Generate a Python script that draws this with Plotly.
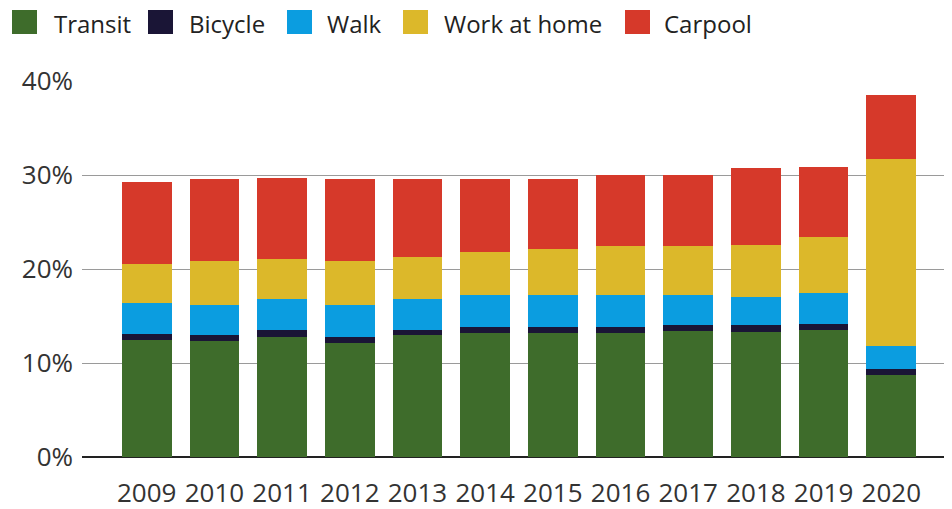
import plotly.graph_objects as go

years = ["2009", "2010", "2011", "2012", "2013", "2014", "2015", "2016", "2017", "2018", "2019", "2020"]

transit = [12.4, 12.3, 12.8, 12.1, 12.95, 13.2, 13.2, 13.2, 13.4, 13.3, 13.55, 8.7]
bicycle = [0.65, 0.65, 0.7, 0.7, 0.6, 0.65, 0.65, 0.65, 0.65, 0.7, 0.65, 0.65]
walk = [3.35, 3.25, 3.3, 3.4, 3.25, 3.35, 3.35, 3.35, 3.15, 3.0, 3.2, 2.45]
work_at_home = [4.1, 4.7, 4.3, 4.6, 4.5, 4.6, 4.9, 5.2, 5.2, 5.55, 6.0, 19.9]
carpool = [8.8, 8.7, 8.6, 8.75, 8.25, 7.8, 7.5, 7.6, 7.6, 8.15, 7.4, 6.8]

series = [
    ("Transit", transit, "#3e6c2b"),
    ("Bicycle", bicycle, "#1a1536"),
    ("Walk", walk, "#0b9de0"),
    ("Work at home", work_at_home, "#dcb82a"),
    ("Carpool", carpool, "#d6392a"),
]

FONT = "Open Sans"
# page body has an 8px margin, so the figure is a bit smaller than the window
W, H = 944, 501
L, R, T, B = 74, 0, 73, 52

def px(x):
    return (x - L) / (W - L - R)

def py(y):
    return (H - B - y) / (H - T - B)

fig = go.Figure()
for name, vals, col in series:
    fig.add_trace(go.Bar(x=years, y=vals, name=name, marker_color=col,
                         marker_line_width=0, showlegend=False))

# legend drawn by hand so the swatches can be large
legend_pos = [(4, 47), (140, 182), (279, 320), (395, 437), (617, 657)]
shapes = []
annotations = []
for (name, _, col), (sx, tx) in zip(series, legend_pos):
    shapes.append(dict(type="rect", xref="paper", yref="paper",
                       x0=px(sx), x1=px(sx + 25), y0=py(26), y1=py(2),
                       fillcolor=col, line_width=0))
    annotations.append(dict(text=name, xref="paper", yref="paper",
                            x=px(tx - 2), y=py(15.5), xanchor="left", yanchor="middle",
                            showarrow=False, borderpad=0,
                            font=dict(family=FONT, size=24, color="#222")))

fig.update_layout(
    width=W, height=H,
    margin=dict(l=L, r=R, t=T, b=B),
    barmode="stack", bargap=0.265,
    plot_bgcolor="white", paper_bgcolor="white",
    font=dict(family=FONT, size=24, color="#333"),
    shapes=shapes, annotations=annotations,
    xaxis=dict(range=[-0.956, 11.897], showgrid=False, showline=False,
               ticks="outside", ticklen=13, tickcolor="rgba(0,0,0,0)",
               tickfont=dict(family=FONT, size=26, color="#333")),
    yaxis=dict(range=[0, 40], tickvals=[0, 10, 20, 30, 40],
               ticktext=["0%", "10%", "20%", "30%", "40%"],
               showgrid=True, gridcolor="#9a9a9a", gridwidth=1,
               zeroline=True, zerolinecolor="#222", zerolinewidth=2,
               showline=False, ticklabelstandoff=8,
               tickfont=dict(family=FONT, size=26, color="#333")),
)

fig.write_html("out.html")
